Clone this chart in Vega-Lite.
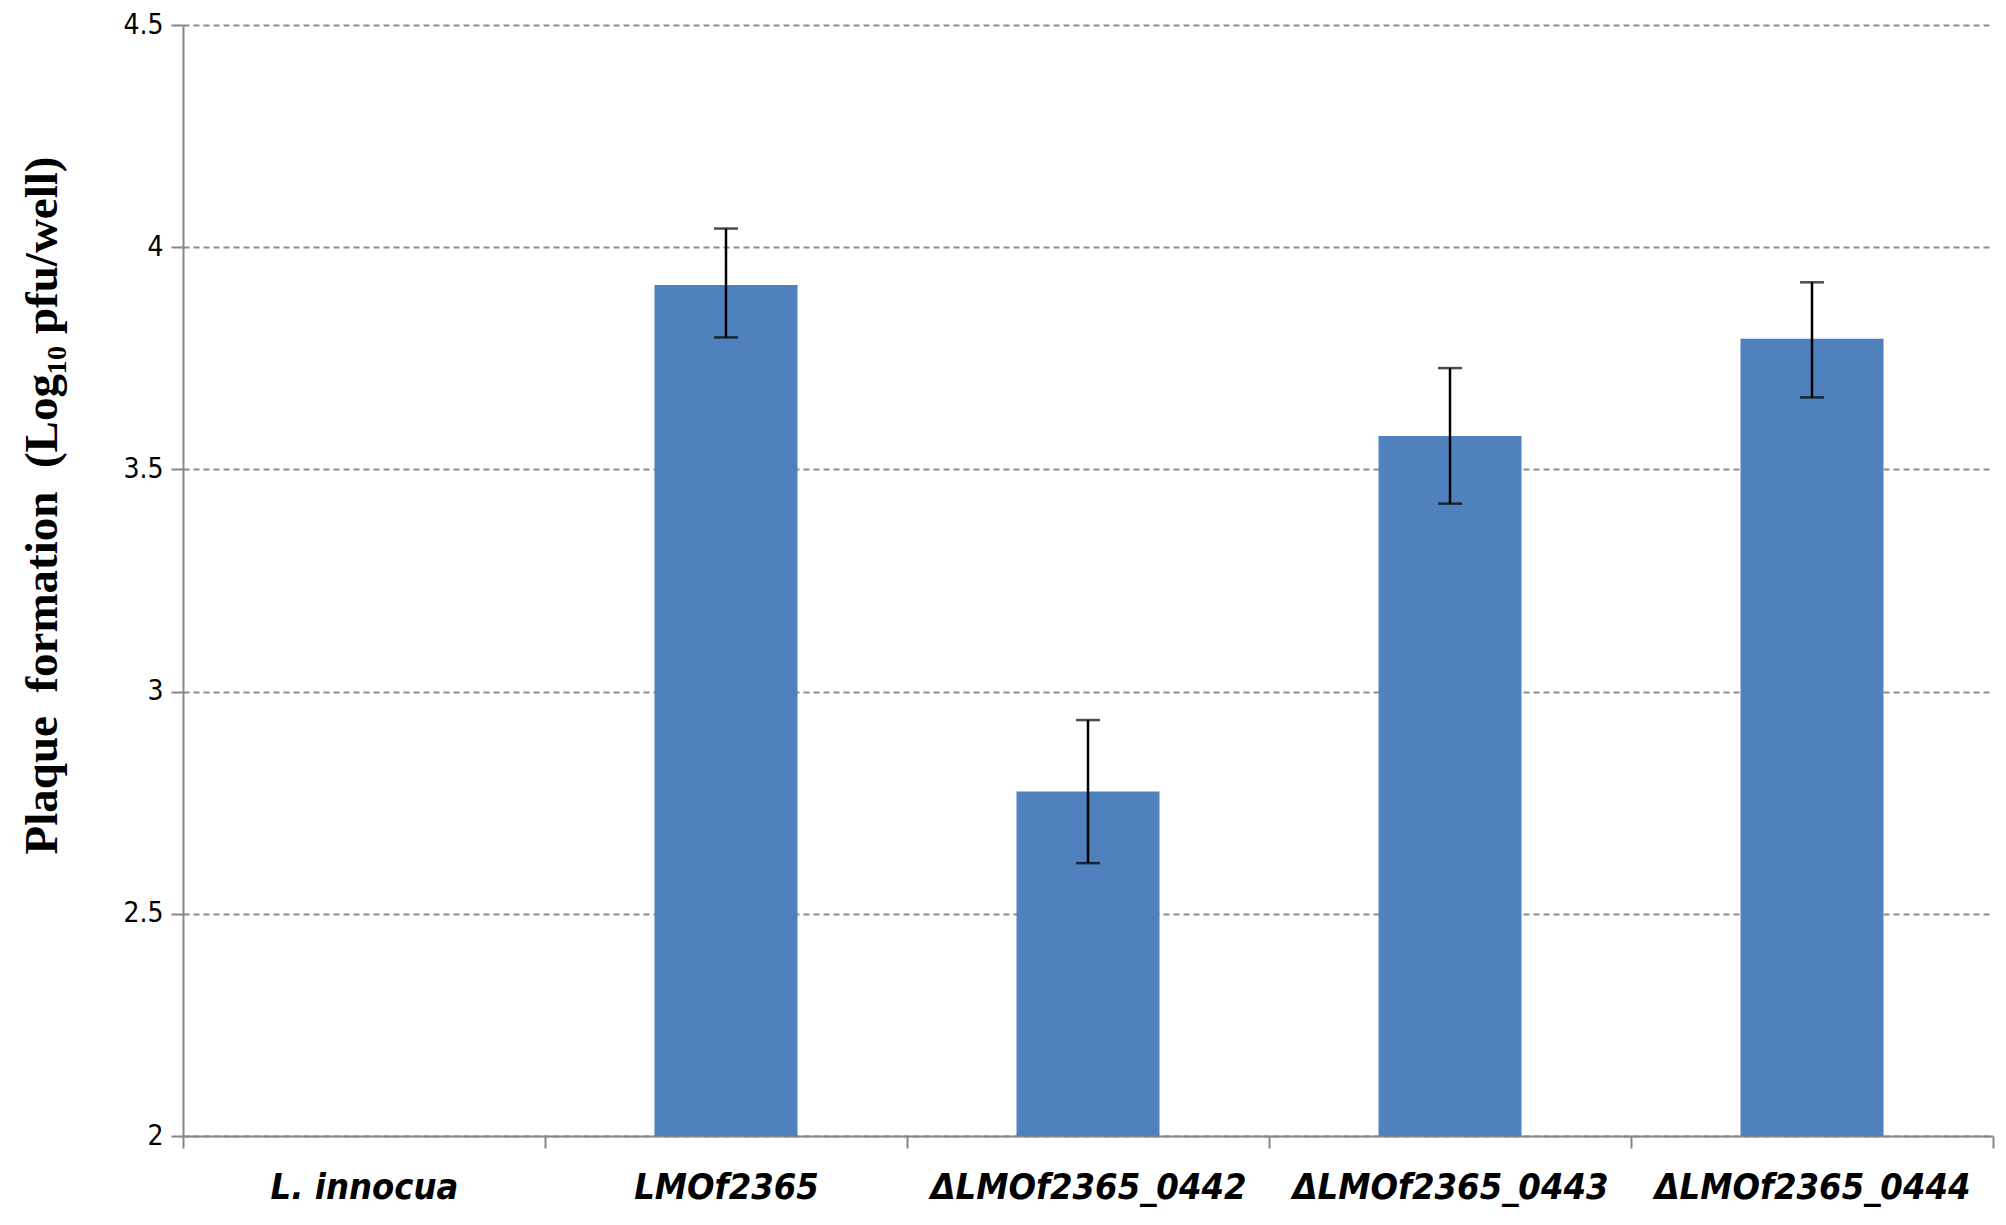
{
  "$schema": "https://vega.github.io/schema/vega-lite/v6.json",
  "width": 1810,
  "height": 1111,
  "autosize": {"type": "none"},
  "padding": {"left": 183, "top": 25, "right": 13, "bottom": 89},
  "background": "white",
  "config": {
    "view": {"stroke": null},
    "axis": {"domainColor": "#868686", "tickColor": "#868686", "domainWidth": 2, "tickWidth": 2}
  },
  "data": {
    "values": [
      {"strain": "L. innocua", "pfu": null, "lo": null, "hi": null},
      {"strain": "LMOf2365", "pfu": 3.915, "lo": 3.797, "hi": 4.042},
      {"strain": "ΔLMOf2365_0442", "pfu": 2.775, "lo": 2.614, "hi": 2.936},
      {"strain": "ΔLMOf2365_0443", "pfu": 3.575, "lo": 3.423, "hi": 3.728},
      {"strain": "ΔLMOf2365_0444", "pfu": 3.794, "lo": 3.662, "hi": 3.921}
    ]
  },
  "encoding": {
    "x": {
      "field": "strain",
      "type": "nominal",
      "sort": null,
      "scale": {
        "domain": ["L. innocua", "LMOf2365", "ΔLMOf2365_0442", "ΔLMOf2365_0443", "ΔLMOf2365_0444"],
        "paddingInner": 0,
        "paddingOuter": 0
      },
      "axis": {
        "title": null,
        "labelAngle": 0,
        "labelFont": "DejaVu Sans Condensed",
        "labelFontSize": 36,
        "labelFontStyle": "italic",
        "labelFontWeight": "bold",
        "labelColor": "black",
        "labelPadding": 22,
        "labelLimit": 0,
        "tickBand": "extent",
        "tickSize": 12
      }
    }
  },
  "layer": [
    {
      "mark": {"type": "bar", "color": "#4F81BD", "width": {"band": 0.395}},
      "encoding": {
        "y": {
          "field": "pfu",
          "type": "quantitative",
          "scale": {"domain": [2, 4.5], "zero": false, "nice": false, "clamp": true},
          "axis": {
            "title": "Plaque\u00a0\u00a0formation\u00a0\u00a0(Log₁₀ pfu/well)",
            "titleFont": "Liberation Serif",
            "titleFontSize": 47,
            "titleFontWeight": "bold",
            "titleColor": "black",
            "titlePadding": 56,
            "titleY": 480,
            "values": [2, 2.5, 3, 3.5, 4, 4.5],
            "format": "~g",
            "labelFont": "DejaVu Sans Condensed",
            "labelFontSize": 28,
            "labelColor": "black",
            "labelPadding": 8,
            "tickSize": 12,
            "grid": true,
            "gridColor": "#8c8c8c",
            "gridDash": [6, 4],
            "gridWidth": 2
          }
        }
      }
    },
    {
      "mark": {"type": "rule", "color": "black", "strokeWidth": 2.5},
      "encoding": {
        "y": {"field": "lo", "type": "quantitative"},
        "y2": {"field": "hi"}
      }
    },
    {
      "mark": {"type": "tick", "color": "black", "size": 24, "thickness": 2.5, "orient": "horizontal"},
      "encoding": {"y": {"field": "lo", "type": "quantitative"}}
    },
    {
      "mark": {"type": "tick", "color": "black", "size": 24, "thickness": 2.5, "orient": "horizontal"},
      "encoding": {"y": {"field": "hi", "type": "quantitative"}}
    }
  ]
}
